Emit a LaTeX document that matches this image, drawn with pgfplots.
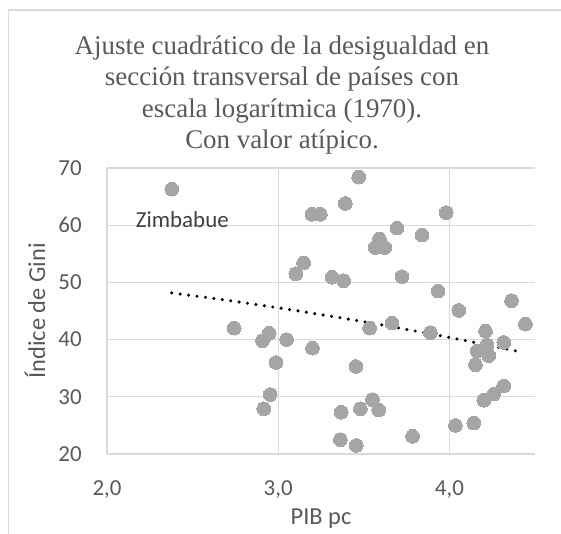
\documentclass[border=0pt]{standalone}
\usepackage{fontspec}
\setmainfont{Carlito}
\newfontfamily\titlefont{Liberation Serif}
\usepackage{pgfplots}
\pgfplotsset{compat=1.18}
\definecolor{txt}{HTML}{595959}
\definecolor{gridc}{HTML}{D9D9D9}
\definecolor{ptc}{HTML}{A5A5A5}
\definecolor{lab}{HTML}{404040}

\begin{document}
\begin{tikzpicture}[x=1bp,y=1bp]
\begin{axis}[
  name=ax,
  scale only axis, width=428bp, height=286bp,
  xmin=2, xmax=4.5, ymin=20, ymax=70,
  axis lines=left,
  axis line style={gridc, line width=1.3bp, -},
  grid=major,
  major grid style={gridc, line width=1.3bp},
  tick style={draw=none},
  xtick={2,3,4}, ytick={20,30,40,50,60,70},
  /pgf/number format/assume math mode=true,
  tick label style={text=txt, font=\fontsize{23}{23}\selectfont},
  xticklabel={\pgfmathprintnumber[fixed,fixed zerofill,precision=1,use comma]{\tick}},
  yticklabel={\pgfmathprintnumber{\tick}},
  yticklabel style={anchor=east, inner sep=0pt, xshift=-23bp},
  xticklabel style={anchor=north, inner sep=0pt, yshift=-24bp},
  xlabel={PIB pc}, ylabel={Índice de Gini},
  every axis x label/.style={at={(axis description cs:0.5,-0.227)}, anchor=center, text=txt, font=\fontsize{24.5}{24.5}\selectfont},
  every axis y label/.style={at={(axis description cs:-0.168,0.5)}, anchor=center, rotate=90, text=txt, font=\fontsize{24.5}{24.5}\selectfont},
  clip=false,
]
\addplot[ptc, only marks, mark=*, mark size=6.9, mark options={fill=ptc, draw=ptc, line width=0pt}] coordinates {
(2.378,66.3) (3.148,53.4) (3.103,51.5) (3.470,68.4) (3.392,63.8)
(3.197,61.9) (3.246,61.9) (3.981,62.2) (3.694,59.5) (3.840,58.3)
(3.591,57.6) (3.567,56.1) (3.622,56.1) (3.314,50.9) (3.382,50.3)
(3.723,51.0) (3.934,48.5) (4.055,45.1) (2.743,42.0) (2.947,41.1)
(2.908,39.8) (3.049,40.0) (2.987,36.0) (2.953,30.4) (2.916,27.9)
(3.200,38.5) (3.534,42.0) (3.665,42.9) (3.889,41.2) (3.454,35.3)
(3.368,27.3) (3.480,27.9) (3.551,29.5) (3.587,27.7) (3.363,22.5)
(3.456,21.5) (3.785,23.1) (4.035,25.0) (4.142,25.4) (4.363,46.8)
(4.444,42.7) (4.211,41.5) (4.318,39.5) (4.162,38.0) (4.230,37.2)
(4.152,35.6) (4.220,39.1) (4.318,31.9) (4.260,30.5) (4.201,29.4)
};
\addplot[smooth, line width=3.4bp, dash pattern=on 0bp off 8.5bp, line cap=round, black] coordinates {
(2.378,48.15) (2.628,47.17) (2.878,46.10) (3.128,44.96) (3.378,43.74)
(3.628,42.45) (3.878,41.07) (4.128,39.62) (4.406,37.91)
};
\node[text=lab, font=\fontsize{23}{23}\selectfont] at (axis cs:2.44,60.96) {Zimbabue};
\end{axis}
\draw[gridc, line width=1.2bp] ([shift={(-98.5,-80)}]ax.south west) -- ([shift={(-98.5,444)}]ax.south west) -- ([shift={(454,444)}]ax.south west);
\node[text=txt, align=center, font=\titlefont\fontsize{27}{31.6}\selectfont] at ([shift={(175,359)}]ax.south west)
  {Ajuste cuadrático de la desigualdad en\\sección transversal de países con\\escala logarítmica (1970).\\Con valor atípico.};
\pgfresetboundingbox
\useasboundingbox ([shift={(-107,-80)}]ax.south west) rectangle ([shift={(454,454)}]ax.south west);
\end{tikzpicture}
\end{document}
